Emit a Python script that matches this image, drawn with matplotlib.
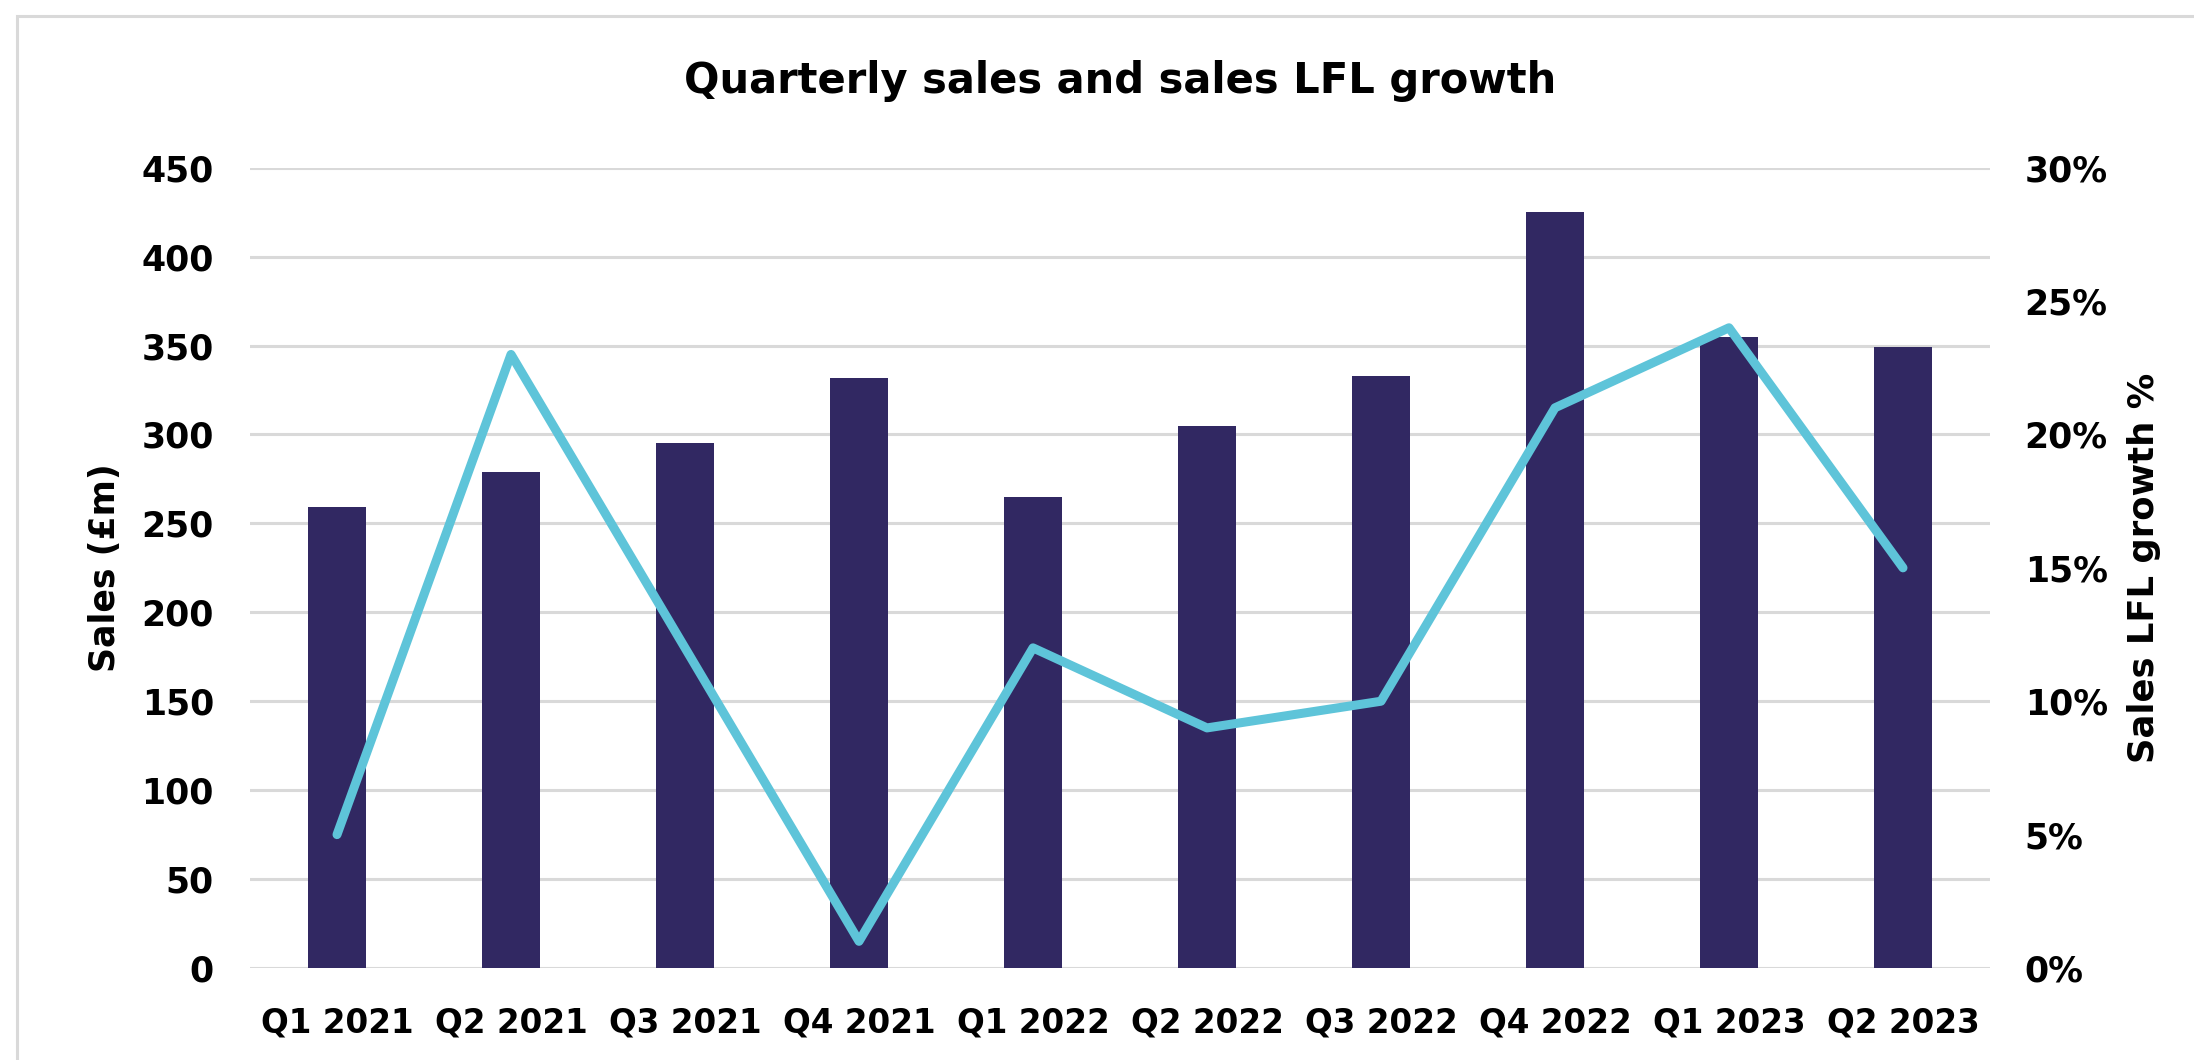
import matplotlib
matplotlib.use("Agg")
import matplotlib.pyplot as plt
from matplotlib.patches import Rectangle
from matplotlib.ticker import FuncFormatter, MultipleLocator

quarters = ["Q1 2021", "Q2 2021", "Q3 2021", "Q4 2021", "Q1 2022",
            "Q2 2022", "Q3 2022", "Q4 2022", "Q1 2023", "Q2 2023"]
sales = [259, 279, 295, 332, 265, 305, 333, 425, 355, 349]
lfl_growth = [5, 23, 12, 1, 12, 9, 10, 21, 24, 15]

title = "Quarterly sales and sales LFL growth"
left_label = "Sales (£m)"
right_label = "Sales LFL growth %"

plt.rcParams['font.family'] = ['DejaVu Sans']
plt.rcParams['font.weight'] = 'bold'

W, H = 2194, 1060
fig = plt.figure(figsize=(W / 100, H / 100), dpi=100)

# light frame (cropped at right and bottom)
fig.patches.append(Rectangle((17 / W, -0.1), 1.2, 1 - 16 / H + 0.1,
                             transform=fig.transFigure, fill=False,
                             edgecolor="#d9d9d9", linewidth=2.2, zorder=0))

ax = fig.add_axes([250 / W, 92 / H, 1740 / W, 800.3 / H])
x = list(range(len(quarters)))
ax.bar(x, sales, width=0.33, color="#312862", zorder=2)
ax.set_xlim(-0.5, len(quarters) - 0.5)
ax.set_ylim(0, 450)
ax.yaxis.set_major_locator(MultipleLocator(50))
ax.grid(axis="y", color="#d9d9d9", linewidth=2.2, zorder=0)
ax.set_axisbelow(True)
for s in ax.spines.values():
    s.set_visible(False)
ax.tick_params(axis="y", length=0, labelsize=25, pad=26)
ax.tick_params(axis="x", length=0, labelsize=23.5, pad=28)
ax.set_xticks(x)
ax.set_xticklabels(quarters, fontweight="bold")
for lab in ax.get_yticklabels():
    lab.set_fontweight("bold")
ax.set_ylabel(left_label, fontsize=25, fontweight="bold", labelpad=14)

ax2 = ax.twinx()
ax2.plot(x, lfl_growth, color="#5ec4d9", linewidth=6.5, solid_joinstyle="round",
         solid_capstyle="round", zorder=3)
ax2.set_ylim(0, 30)
ax2.yaxis.set_major_locator(MultipleLocator(5))
ax2.yaxis.set_major_formatter(FuncFormatter(lambda v, p: f"{v:.0f}%"))
for s in ax2.spines.values():
    s.set_visible(False)
ax2.tick_params(axis="y", length=0, labelsize=25, pad=25)
for lab in ax2.get_yticklabels():
    lab.set_fontweight("bold")
ax2.set_ylabel(right_label, fontsize=25.5, fontweight="bold", labelpad=14)

fig.text(1120 / W, 1 - 81 / H, title, ha="center", va="center",
         fontsize=30, fontweight="bold")

fig.savefig("out.png", dpi=100, facecolor="white")
